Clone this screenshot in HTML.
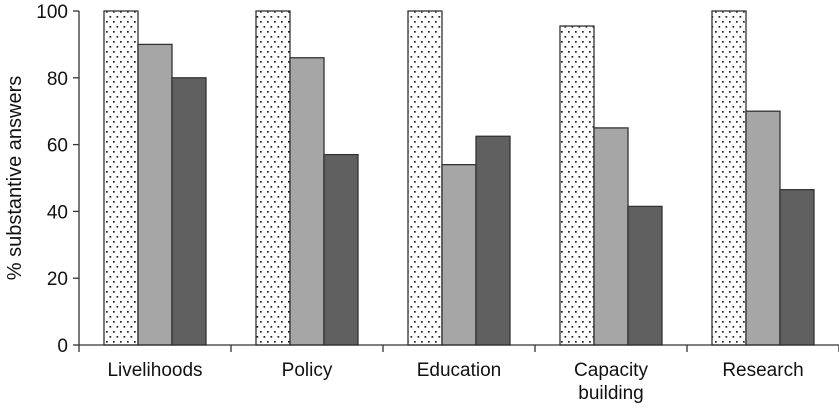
<!DOCTYPE html>
<html><head><meta charset="utf-8"><style>
html,body{margin:0;padding:0;background:#fff;}
svg text{font-family:"Liberation Sans",Arial,sans-serif;fill:#111;}
</style></head><body>
<svg id="chart" width="839" height="403" viewBox="0 0 839 403" xmlns="http://www.w3.org/2000/svg">
<defs>
<pattern id="dots" width="7" height="10" patternUnits="userSpaceOnUse">
<rect width="7" height="10" fill="#fff"/>
<rect x="1" y="1" width="1.7" height="1.7" fill="#222"/>
<rect x="4.5" y="6" width="1.7" height="1.7" fill="#222"/>
</pattern>
</defs>
<g id="plot"></g>
<text transform="translate(21,178) rotate(-90)" text-anchor="middle" font-size="20">% substantive answers</text>
</svg>
<script>
const categories = ["Livelihoods","Policy","Education","Capacity|building","Research"];
const series1 = [100,100,100,95.5,100];
const series2 = [90,86,54,65,70];
const series3 = [80,57,62.5,41.5,46.5];
const yTicks = [0,20,40,60,80,100];

const ns="http://www.w3.org/2000/svg";
const g=document.getElementById('plot');
const x0=79, groupW=152, y0=345, yTop=11;
const y=v=>y0-(v/100)*(y0-yTop);
const gx=i=>x0+i*groupW;
function el(t,a){const e=document.createElementNS(ns,t);for(const k in a)e.setAttribute(k,a[k]);g.appendChild(e);return e;}
const fills=["url(#dots)","#a6a6a6","#606060"];
const all=[series1,series2,series3];
categories.forEach((c,i)=>{
  all.forEach((s,j)=>{
    const r=el('rect',{x:gx(i)+25+j*34,y:y(s[i]),width:34,height:y0-y(s[i]),fill:fills[j],stroke:"#333","stroke-width":1.3});
    
    
  });
  const t=el('text',{x:gx(i)+76,y:376,"text-anchor":"middle","font-size":19});
  
  
  c.split('|').forEach((p,k)=>{const ts=document.createElementNS(ns,'tspan');ts.setAttribute('x',gx(i)+76);ts.setAttribute('dy',k?23:0);ts.textContent=p;t.appendChild(ts);});
  const tk=el('line',{x1:gx(i+1),x2:gx(i+1),y1:y0,y2:y0+7,stroke:"#333","stroke-width":1.3});
  
  
});
const t0=el('line',{x1:x0,x2:x0,y1:y0,y2:y0+7,stroke:"#333","stroke-width":1.3});


yTicks.forEach(v=>{
  const l=el('line',{x1:x0-6,x2:x0,y1:y(v),y2:y(v),stroke:"#333","stroke-width":1.3});
  
  
  const t=el('text',{x:x0-11,y:y(v)+7,"text-anchor":"end","font-size":19});
  t.textContent=v;
  
  
});
const ya=el('line',{x1:x0,x2:x0,y1:yTop,y2:y0,stroke:"#333","stroke-width":1.3});


const xa=el('line',{x1:x0,x2:839,y1:y0,y2:y0,stroke:"#333","stroke-width":1.3});


</script>
</body></html>
